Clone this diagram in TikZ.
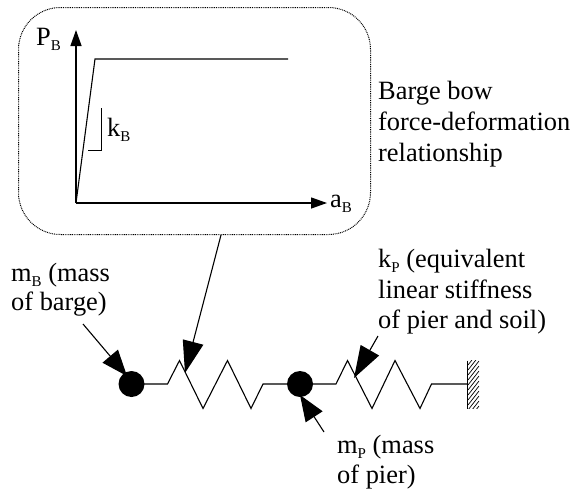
\documentclass[tikz,border=0pt]{standalone}
\usepackage{fontspec}
\setmainfont{Liberation Serif}
\usetikzlibrary{arrows.meta,patterns}
\newcommand{\sub}[1]{\raisebox{-5pt}{\fontsize{15}{15}\selectfont #1}}
\tikzset{
  txt/.style={inner sep=0pt,anchor=base west,font=\fontsize{26.4}{26.4}\selectfont},
  ln/.style={line width=1.1pt,line join=miter},
  ptrL/.style={line width=1.1pt,-{Triangle[length=32pt,width=21pt]}},
  ptrS/.style={line width=1.1pt,-{Triangle[length=26pt,width=20pt]}},
  ax/.style={line width=1.3pt,-{Triangle[length=16pt,width=11pt]}},
  mass/.style={circle,fill=black,draw=none,minimum size=26pt,inner sep=0pt}
}
\begin{document}
\begin{tikzpicture}[x=1pt,y=-1pt]
\useasboundingbox (0,0) rectangle (575,493);
\fill[white] (0,0) rectangle (575,493);
\node[draw,dash pattern=on 0.9pt off 0.9pt,line width=1pt,rounded corners=42pt,minimum width=352pt,minimum height=227pt,anchor=north west,inner sep=0pt] (box) at (18,7) {};
\coordinate (O) at (76,203);
\coordinate (Yt) at (76,30);
\coordinate (Xt) at (327,203);
\coordinate (C1) at (95,59);
\coordinate (C2) at (288,59);
\draw[ax] (O) -- (Yt);
\draw[ax] (O) -- (Xt);
\draw[ln] (O) -- (C1) -- (C2);
\coordinate (S1) at (88,150.5);
\coordinate (S2) at (101.5,150.5);
\coordinate (S3) at (101.5,108);
\draw[ln] (S1) -- (S2) -- (S3);
\node[txt] (pb) at (36,45) {P\sub{B}};
\node[txt] (kb) at (107,136) {k\sub{B}};
\node[txt] (ab) at (330,207) {a\sub{B}};
\node[txt] (l1) at (378,99) {Barge bow};
\node[txt] (l2) at (378,130) {force-deformation};
\node[txt] (l3) at (378,161) {relationship};
\node[txt] (mb1) at (11,281) {m\sub{B} (mass};
\node[txt] (mb2) at (11,310) {of barge)};
\node[txt] (kp1) at (378,267) {k\sub{P} (equivalent};
\node[txt] (kp2) at (378,298) {linear stiffness};
\node[txt] (kp3) at (378,328) {of pier and soil)};
\node[txt] (mp1) at (337,453) {m\sub{P} (mass};
\node[txt] (mp2) at (337,483) {of pier)};
\node[mass] (m1) at (131.5,384) {};
\node[mass] (m2) at (300,384) {};
\coordinate (W) at (467.5,384);
\draw[ln] (m1.center) -- (167.5,384) -- (179.5,360.5) -- (203,408.5) -- (227.5,360.5) -- (251,408.5) -- (263,384) -- (m2.center);
\draw[ln] (m2.center) -- (336,384) -- (347.5,360.5) -- (372,408.5) -- (395,360.5) -- (420,408.5) -- (431.5,384) -- (W);
\coordinate (Wa) at (467.5,360.5);
\coordinate (Wb) at (467.5,408.5);
\draw[line width=1.4pt] (Wa) -- (Wb);
\begin{scope}
\clip (468,360.5) rectangle (479,408.5);
\foreach \y in {360,365,...,420}{ \draw[line width=.7pt] (468,\y) -- (479,\y-14); }
\end{scope}
\coordinate (a1s) at (221,235);
\coordinate (a1e) at (185,373);
\draw[ptrL] (a1s) -- (a1e);
\coordinate (a2s) at (83,324);
\coordinate (a2e) at (127,376);
\draw[ptrS] (a2s) -- (a2e);
\coordinate (a3s) at (324,432);
\coordinate (a3e) at (300,395);
\draw[ptrS] (a3s) -- (a3e);
\coordinate (a4s) at (378,336);
\coordinate (a4e) at (354,378);
\draw[ptrL] (a4s) -- (a4e);
\end{tikzpicture}
\end{document}
